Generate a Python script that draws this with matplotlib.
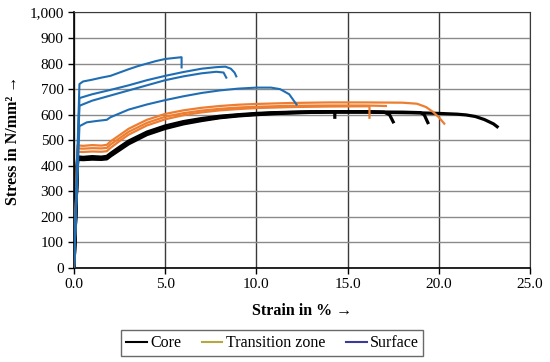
import matplotlib.pyplot as plt
from matplotlib.lines import Line2D

# Core specimens (strain in %, stress in N/mm²)
core1_strain = [0, 0.2, 0.5, 1.0, 1.5, 1.8, 2.0, 2.5, 3, 4, 5, 6, 7, 8, 9, 10, 11, 12, 13, 14, 14.3, 14.3]
core1_stress = [0, 435, 433, 436, 434, 437, 448, 473, 497, 532, 556, 573, 585, 594, 600, 605, 608, 610, 611, 612, 612, 590]

core2_strain = [0, 0.2, 0.5, 1.0, 1.5, 1.8, 2.0, 2.5, 3, 4, 5, 6, 7, 8, 9, 10, 11, 12, 13, 14, 15, 16, 17, 17.3, 17.5]
core2_stress = [0, 430, 429, 431, 430, 432, 444, 468, 492, 528, 552, 570, 582, 592, 598, 603, 607, 609, 611, 612, 612, 612, 610, 600, 572]

core3_strain = [0, 0.2, 0.5, 1.0, 1.5, 1.8, 2.0, 2.5, 3, 4, 5, 6, 7, 8, 9, 10, 11, 12, 13, 14, 15, 16, 17, 18, 19, 19.2, 19.4]
core3_stress = [0, 428, 427, 429, 428, 430, 441, 466, 490, 526, 550, 568, 580, 590, 597, 602, 606, 608, 610, 611, 611, 611, 610, 610, 608, 600, 569]

core4_strain = [0, 0.2, 0.5, 1.0, 1.5, 1.8, 2.0, 2.5, 3, 4, 5, 6, 7, 8, 9, 10, 11, 12, 13, 14, 15, 16, 17, 18, 19, 20, 21, 21.5, 22, 22.5, 23, 23.2]
core4_stress = [0, 425, 424, 426, 425, 427, 438, 462, 486, 522, 546, 564, 577, 588, 595, 600, 604, 607, 609, 610, 610, 610, 609, 608, 607, 605, 602, 599, 593, 581, 564, 553]

# Transition zone specimens
trans1_strain = [0, 0.2, 0.5, 1.0, 1.5, 1.8, 2.0, 2.5, 3, 4, 5, 6, 7, 8, 9, 10, 12, 14, 16, 18, 18.8, 19.3, 19.7, 20.0, 20.3]
trans1_stress = [0, 480, 478, 481, 479, 482, 495, 520, 545, 580, 603, 617, 627, 634, 639, 642, 646, 648, 648, 647, 643, 630, 610, 590, 565]

trans2_strain = [0, 0.2, 0.5, 1.0, 1.5, 1.8, 2.0, 2.5, 3, 4, 5, 6, 7, 8, 9, 10, 12, 14, 16, 17.1]
trans2_stress = [0, 468, 467, 469, 468, 470, 483, 508, 533, 568, 592, 606, 616, 623, 628, 631, 635, 636, 636, 634]

trans3_strain = [0, 0.2, 0.5, 1.0, 1.5, 1.8, 2.0, 2.5, 3, 4, 5, 6, 7, 8, 9, 10, 12, 14, 16, 16.2, 16.2]
trans3_stress = [0, 455, 454, 456, 455, 457, 470, 497, 522, 558, 582, 598, 609, 617, 622, 626, 630, 632, 633, 633, 588]

# Surface specimens
surf1_strain = [0, 0.3, 0.5, 1.0, 1.5, 2.0, 2.5, 3.0, 3.5, 4.0, 4.5, 5.0, 5.5, 5.9, 5.9]
surf1_stress = [0, 720, 730, 737, 745, 752, 765, 778, 790, 800, 810, 818, 822, 825, 785]

surf2_strain = [0, 0.3, 1, 2, 3, 4, 5, 6, 7, 7.8, 8.3, 8.6, 8.8, 8.9]
surf2_stress = [0, 665, 680, 697, 715, 735, 752, 767, 780, 786, 788, 780, 765, 750]

surf3_strain = [0, 0.3, 1, 2, 3, 4, 5, 6, 7, 7.8, 8.2, 8.35]
surf3_stress = [0, 635, 655, 675, 695, 715, 735, 750, 762, 768, 765, 745]

surf4_strain = [0, 0.3, 0.7, 1.2, 1.8, 2.0, 2.5, 3, 4, 5, 6, 7, 8, 9, 10, 10.8, 11.3, 11.8, 12.2]
surf4_stress = [0, 555, 570, 575, 580, 590, 605, 620, 640, 657, 672, 685, 695, 702, 706, 706, 700, 680, 640]

core_curves = [(core1_strain, core1_stress), (core2_strain, core2_stress),
               (core3_strain, core3_stress), (core4_strain, core4_stress)]
trans_curves = [(trans1_strain, trans1_stress), (trans2_strain, trans2_stress),
                (trans3_strain, trans3_stress)]
surf_curves = [(surf1_strain, surf1_stress), (surf2_strain, surf2_stress),
               (surf3_strain, surf3_stress), (surf4_strain, surf4_stress)]

legend_labels = ["Core", "Transition zone", "Surface"]
legend_colors = ["black", "#b8a640", "#3a3a9a"]

plt.rcParams['font.family'] = ['Liberation Serif', 'DejaVu Serif']

fig = plt.figure(figsize=(5.5, 3.62), dpi=100)
ax = fig.add_axes([0.1345, 0.2597, 0.8291, 0.7058])

for s, y in core_curves:
    ax.plot(s, y, color="black", lw=2.3, zorder=3)
for s, y in trans_curves:
    ax.plot(s, y, color="#ed7d31", lw=1.6, zorder=4)
for s, y in surf_curves:
    ax.plot(s, y, color="#1f6eb4", lw=1.5, zorder=5)

ax.set_xlim(0, 25)
ax.set_ylim(0, 1000)
ax.set_xticks([0, 5, 10, 15, 20, 25])
ax.set_xticklabels(["0.0", "5.0", "10.0", "15.0", "20.0", "25.0"])
ax.set_yticks(range(0, 1001, 100))
ax.set_yticklabels([f"{v:,}" for v in range(0, 1001, 100)])

ax.yaxis.grid(True, color="#8a8a8a", lw=1.0, zorder=0)
ax.xaxis.grid(True, color="#3a3a3a", lw=1.0, zorder=0)
ax.set_axisbelow(True)
for side in ["top", "right"]:
    ax.spines[side].set_color("#3a3a3a")
for side in ["left", "bottom"]:
    ax.spines[side].set_color("black")
    ax.spines[side].set_linewidth(1.2)
ax.tick_params(axis="both", direction="out", length=4, width=1, labelsize=11, colors="black")

ax.set_xlabel("Strain in % \u2192", fontsize=11.5, fontweight="bold", labelpad=8)
ax.set_ylabel("Stress in N/mm\u00b2 \u2192", fontsize=11.5, fontweight="bold", labelpad=6)

handles = [Line2D([], [], color=c, lw=1.5) for c in legend_colors]
leg = fig.legend(handles, legend_labels, loc="center", bbox_to_anchor=(0.495, 0.052), ncol=3,
                 fontsize=11.5, frameon=True, fancybox=False, handlelength=1.3, handletextpad=0.2,
                 columnspacing=1.3, borderpad=0.3)
leg.get_frame().set_edgecolor("#444444")
leg.get_frame().set_linewidth(1.0)

fig.savefig("out.png", dpi=100)
